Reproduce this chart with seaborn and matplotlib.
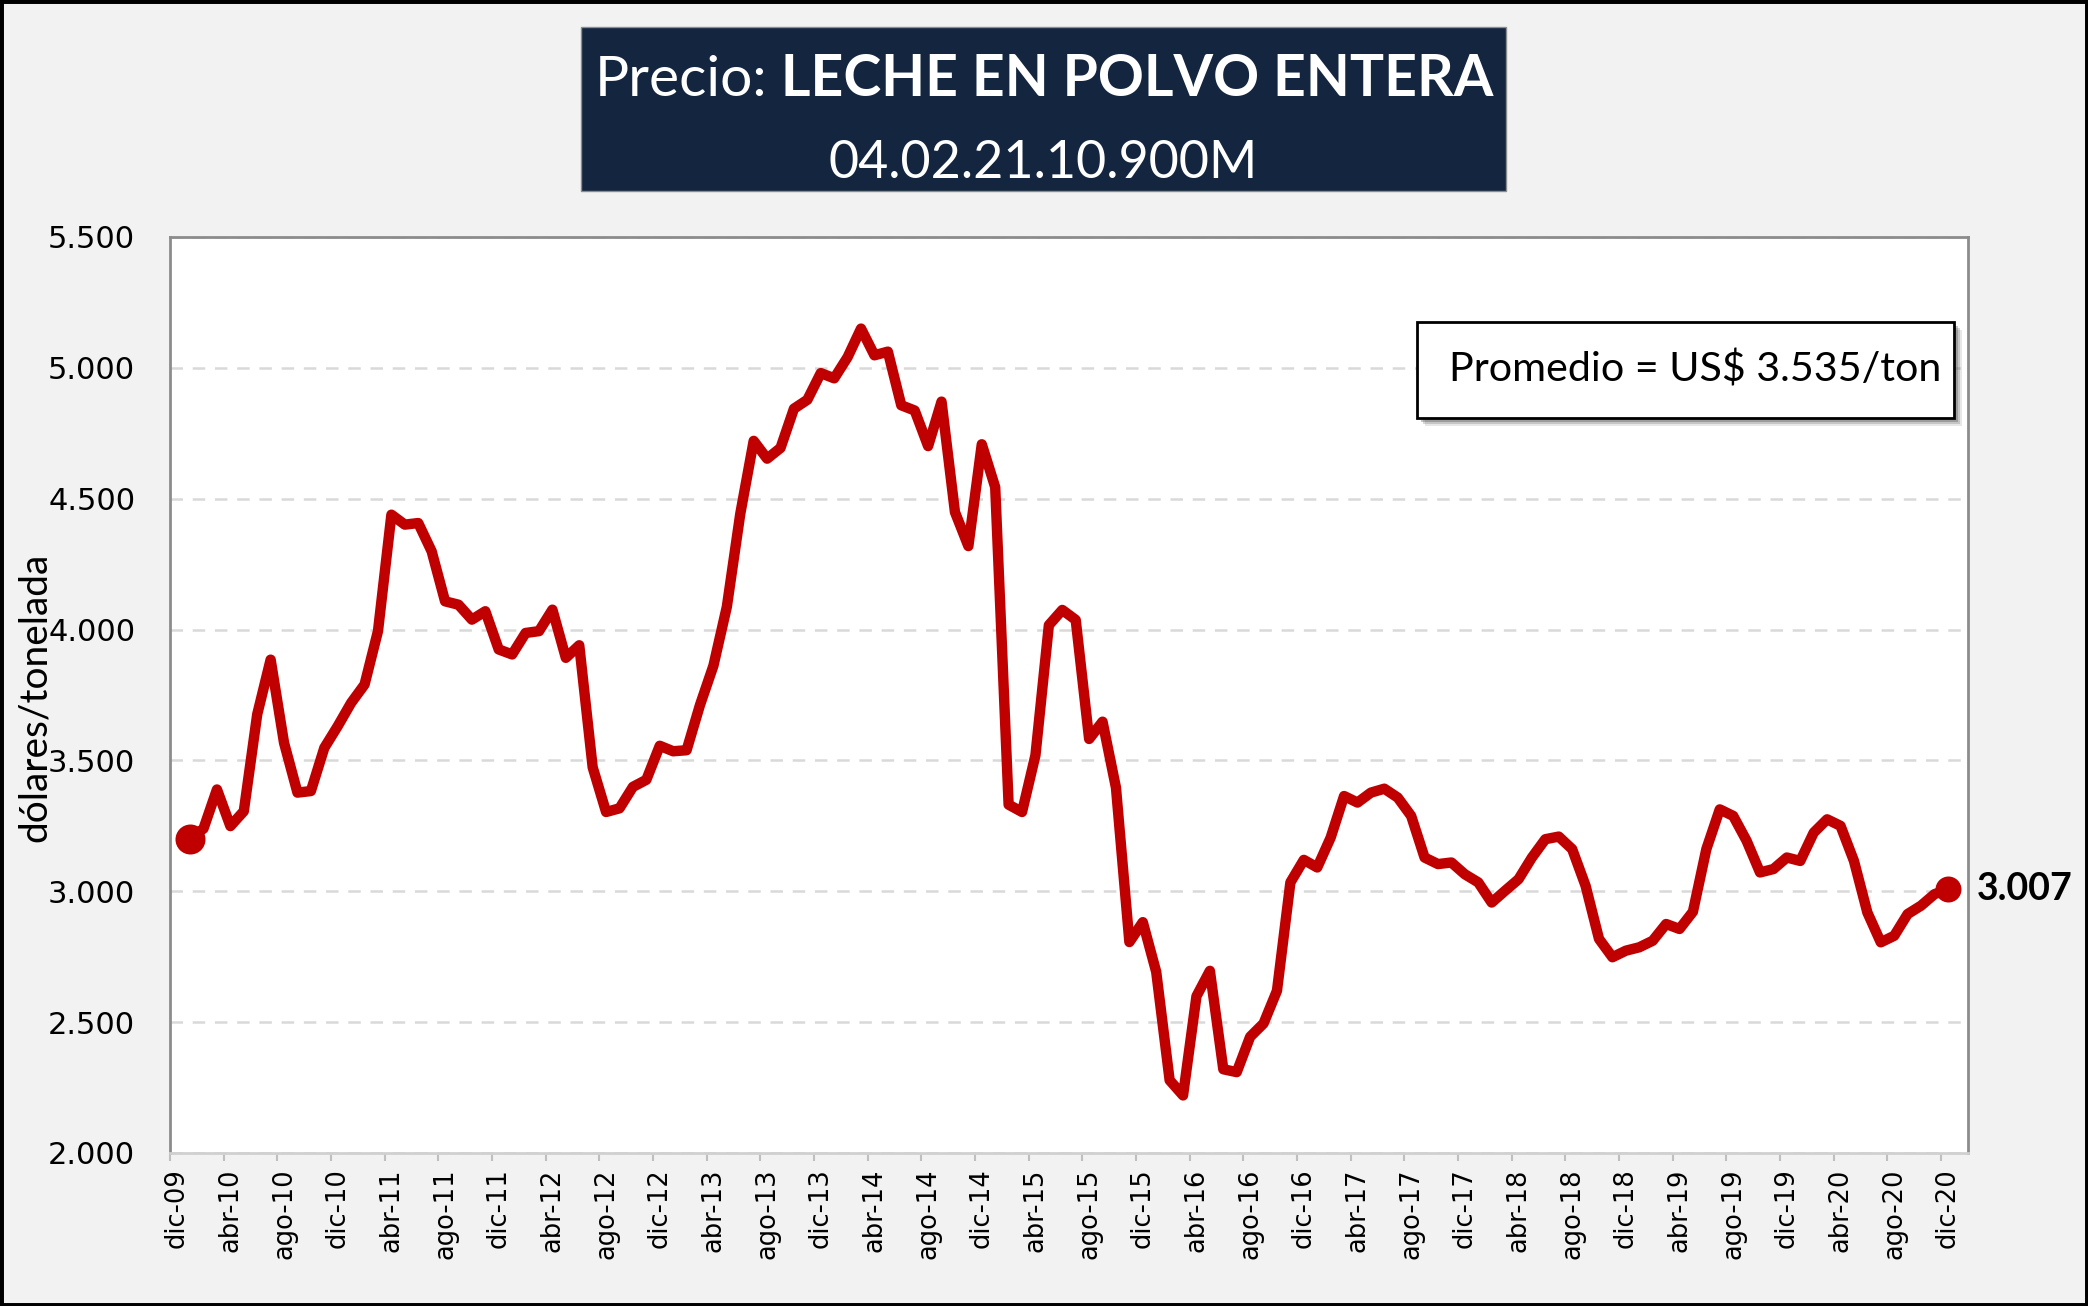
import numpy as np
import pandas as pd
import matplotlib
matplotlib.use("Agg")
import matplotlib.pyplot as plt
from matplotlib.patches import Rectangle
import seaborn as sns

# etiquetas del eje x (cada 4 meses, dic-09 .. dic-20)
etiquetas_x = ["dic-09", "abr-10", "ago-10", "dic-10", "abr-11", "ago-11", "dic-11",
               "abr-12", "ago-12", "dic-12", "abr-13", "ago-13", "dic-13", "abr-14",
               "ago-14", "dic-14", "abr-15", "ago-15", "dic-15", "abr-16", "ago-16",
               "dic-16", "abr-17", "ago-17", "dic-17", "abr-18", "ago-18", "dic-18",
               "abr-19", "ago-19", "dic-19", "abr-20", "ago-20", "dic-20"]

# precio mensual US$/ton, ene-10 .. dic-20
precios = [3198, 3240, 3389, 3249, 3306, 3676, 3885, 3567, 3377, 3383, 3548, 3631,
           3720, 3790, 3994, 4439, 4401, 4407, 4299, 4108, 4095, 4038, 4070, 3924,
           3905, 3987, 3994, 4076, 3892, 3940, 3474, 3303, 3317, 3399, 3426, 3556,
           3535, 3539, 3712, 3862, 4087, 4442, 4721, 4653, 4694, 4844, 4878, 4980,
           4960, 5041, 5150, 5048, 5062, 4857, 4837, 4701, 4871, 4449, 4319, 4708,
           4544, 3331, 3303, 3520, 4017, 4075, 4037, 3582, 3648, 3396, 2806, 2882,
           2692, 2278, 2220, 2599, 2696, 2320, 2309, 2444, 2495, 2620, 3034, 3120,
           3091, 3205, 3364, 3339, 3377, 3392, 3358, 3288, 3129, 3104, 3110, 3065,
           3034, 2957, 3002, 3046, 3129, 3199, 3209, 3161, 3021, 2818, 2748, 2773,
           2786, 2811, 2875, 2856, 2922, 3161, 3313, 3288, 3193, 3072, 3085, 3129,
           3116, 3224, 3275, 3250, 3116, 2919, 2805, 2830, 2913, 2945, 2989, 3007]

ticks_y = [2000, 2500, 3000, 3500, 4000, 4500, 5000, 5500]
promedio = 3535

titulo_1 = "Precio:"
titulo_2 = " LECHE EN POLVO ENTERA"
subtitulo = "04.02.21.10.900M"

ROJO = "#C00000"
AZUL = "#13253F"
FUENTE = "Lato"

W, H = 2088, 1306
sns.set_theme(style="white")
plt.rcParams["font.family"] = ["DejaVu Sans"]
plt.rcParams["lines.scale_dashes"] = False
plt.rcParams["text.color"] = "black"

fig = plt.figure(figsize=(W / 100, H / 100), dpi=100, facecolor="#F2F2F2")
ax = fig.add_axes([170 / W, 1 - 1153 / H, 1798 / W, 916 / H])
ax.set_facecolor("white")

# posiciones: dic-09 = 0, cada mes ocupa una categoria centrada en i + 0.5
df = pd.DataFrame({"pos": np.arange(1, len(precios) + 1) + 0.5, "precio": precios})

sns.lineplot(data=df, x="pos", y="precio", ax=ax, color=ROJO, linewidth=7.5,
             solid_joinstyle="round", solid_capstyle="round", zorder=4)
sns.scatterplot(data=df.iloc[[0]], x="pos", y="precio", ax=ax, color=ROJO,
                s=400, edgecolor=ROJO, zorder=5, clip_on=False)
sns.scatterplot(data=df.iloc[[-1]], x="pos", y="precio", ax=ax, color=ROJO,
                s=300, edgecolor=ROJO, zorder=5, clip_on=False)

ax.annotate(f"{precios[-1]:,}".replace(",", "."), xy=(df["pos"].iloc[-1], precios[-1]),
            xytext=(21, 0), textcoords="offset points", va="center", ha="left",
            fontsize=27, fontweight="bold", family=FUENTE, color="black",
            annotation_clip=False)

ax.set_xlim(0, 134)
ax.set_ylim(2000, 5500)
ax.set_yticks(ticks_y)
ax.set_yticklabels([f"{v:,}".replace(",", ".") for v in ticks_y], fontsize=22)
ax.tick_params(axis="y", length=0, pad=25, labelcolor="black")

ax.set_xticks(np.arange(len(etiquetas_x)) * 4 + 0.5)
ax.set_xticklabels(etiquetas_x, rotation=90, fontsize=18.5)
ax.tick_params(axis="x", which="major", length=0, pad=11, labelcolor="black")
ax.set_xticks(np.arange(len(etiquetas_x)) * 4, minor=True)
ax.tick_params(axis="x", which="minor", length=6, width=1.5, color="#BFBFBF", bottom=True)

ax.yaxis.grid(True, color="#D9D9D9", linestyle=(0, (9, 7)), linewidth=1.8)
ax.xaxis.grid(False)
ax.set_xlabel("")
ax.set_ylabel("")
for lado in ["left", "top", "right"]:
    ax.spines[lado].set_color("#8C8C8C")
    ax.spines[lado].set_linewidth(2)
ax.spines["bottom"].set_color("#D0D0D0")
ax.spines["bottom"].set_linewidth(2)

fig.text(35 / W, 1 - 697 / H, "dólares/tonelada", rotation=90, ha="center", va="center",
         fontsize=28, family=FUENTE, color="black")

# marco exterior
fig.patches.append(Rectangle((0, 0), 1, 1, transform=fig.transFigure, fill=False,
                             edgecolor="black", linewidth=5, zorder=10))

# caja del titulo
fig.patches.append(Rectangle((581 / W, 1 - 191 / H), 925 / W, 164 / H,
                             transform=fig.transFigure, facecolor=AZUL,
                             edgecolor="#8C8C8C", linewidth=1, zorder=1))

fig.canvas.draw()
rend = fig.canvas.get_renderer()


def ancho(t):
    return t.get_window_extent(renderer=rend).width


# linea 1 del titulo: normal + negrita, ajustada al ancho del original
t1 = fig.text(0, 1 - 96 / H, titulo_1, color="white", fontsize=40, family=FUENTE,
              va="baseline", ha="left", zorder=3)
t2 = fig.text(0, 1 - 96 / H, titulo_2, color="white", fontsize=40, family=FUENTE,
              fontweight="bold", va="baseline", ha="left", zorder=3)
k = 898 / (ancho(t1) + ancho(t2))
t1.set_fontsize(40 * k)
t2.set_fontsize(40 * k)
w1, w2 = ancho(t1), ancho(t2)
x0 = 1044 - (w1 + w2) / 2
t1.set_x(x0 / W)
t2.set_x((x0 + w1) / W)

t3 = fig.text(1043 / W, 1 - 178 / H, subtitulo, color="white", fontsize=40,
              family=FUENTE, va="baseline", ha="center", zorder=3)
t3.set_fontsize(40 * 429 / ancho(t3))

# caja del promedio con sombra
for d, a in [(8, 0.12), (6, 0.2), (4, 0.3)]:
    fig.patches.append(Rectangle(((1417 + d) / W, 1 - (418 + d) / H), 537 / W, 96 / H,
                                 transform=fig.transFigure, facecolor="#404040",
                                 edgecolor="none", alpha=a, zorder=6))
fig.patches.append(Rectangle((1417 / W, 1 - 418 / H), 537 / W, 96 / H,
                             transform=fig.transFigure, facecolor="white",
                             edgecolor="black", linewidth=2, zorder=7))
tp = fig.text(1695 / W, 1 - 370 / H,
              f"Promedio = US$ {promedio:,}/ton".replace(",", "."),
              fontsize=28, family=FUENTE, ha="center", va="center", color="black",
              zorder=8)
tp.set_fontsize(28 * 493 / ancho(tp))

fig.savefig("out.png", dpi=100, facecolor=fig.get_facecolor())
